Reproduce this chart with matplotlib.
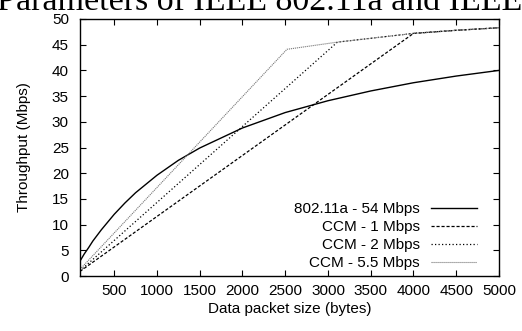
import matplotlib
matplotlib.use("Agg")
import matplotlib.pyplot as plt

# === данные ===
size_80211a = [100, 150, 200, 250, 350, 500, 625, 750, 1000, 1250, 1500, 2000, 2500,
               3000, 3500, 4000, 4500, 5000]
thr_80211a = [2.9, 4.3, 5.5, 6.8, 9.0, 12.0, 14.2, 16.2, 19.6, 22.5, 24.9, 28.8, 31.8,
              34.1, 36.0, 37.6, 38.9, 40.0]

size_ccm1 = [100, 4000, 4500, 5000]
thr_ccm1 = [0.9, 47.2, 47.8, 48.3]

size_ccm2 = [100, 3110, 4000, 4500, 5000]
thr_ccm2 = [1.0, 45.5, 47.2, 47.8, 48.3]

size_ccm55 = [100, 2520, 3110, 4000, 4500, 5000]
thr_ccm55 = [1.3, 44.1, 45.5, 47.2, 47.8, 48.3]

labels = ["802.11a - 54 Mbps", "CCM - 1 Mbps", "CCM - 2 Mbps", "CCM - 5.5 Mbps"]
xticks = [500, 1000, 1500, 2000, 2500, 3000, 3500, 4000, 4500, 5000]
yticks = [0, 5, 10, 15, 20, 25, 30, 35, 40, 45, 50]

plt.rcParams["font.family"] = ["Liberation Sans", "DejaVu Sans"]
plt.rcParams["font.size"] = 11

fig = plt.figure(figsize=(5.22, 3.31), dpi=100)
ax = fig.add_axes([80 / 522, 55 / 331, 419 / 522, 257 / 331])

ax.plot(size_80211a, thr_80211a, color="black", lw=1.0, label=labels[0])
ax.plot(size_ccm1, thr_ccm1, color="black", lw=0.9, dashes=(2.5, 1.5), label=labels[1])
ax.plot(size_ccm2, thr_ccm2, color="black", lw=0.9, dashes=(1, 1.8), label=labels[2])
ax.plot(size_ccm55, thr_ccm55, color="#777777", lw=0.8, dashes=(1, 0.8), label=labels[3])

ax.set_xlim(100, 5000)
ax.set_ylim(0, 50)
ax.set_xticks(xticks)
ax.set_yticks(yticks)
ax.tick_params(direction="in", length=4, width=0.8, top=True, right=True, labelsize=11)
ax.tick_params(axis="y", pad=8)
ax.tick_params(axis="x", pad=6)
for s in ax.spines.values():
    s.set_linewidth(1.0)

ax.set_xlabel("Data packet size (bytes)", fontsize=11, labelpad=3)
ax.set_ylabel("Throughput (Mbps)", fontsize=11, labelpad=15)

ax.legend(loc="lower right", frameon=False, markerfirst=False, handlelength=3.0,
          handletextpad=0.75, labelspacing=0.25, borderaxespad=0.0, fontsize=11,
          bbox_to_anchor=(0.962, 0.0))

# заголовок обрезан сверху, как в оригинале
fig.text(-0.005, 1 - 10 / 331, "Parameters of IEEE 802.11a and IEEE 802.15.4",
         family="Liberation Serif", fontsize=24.5, va="baseline", ha="left")

fig.savefig("out.png", dpi=100)
